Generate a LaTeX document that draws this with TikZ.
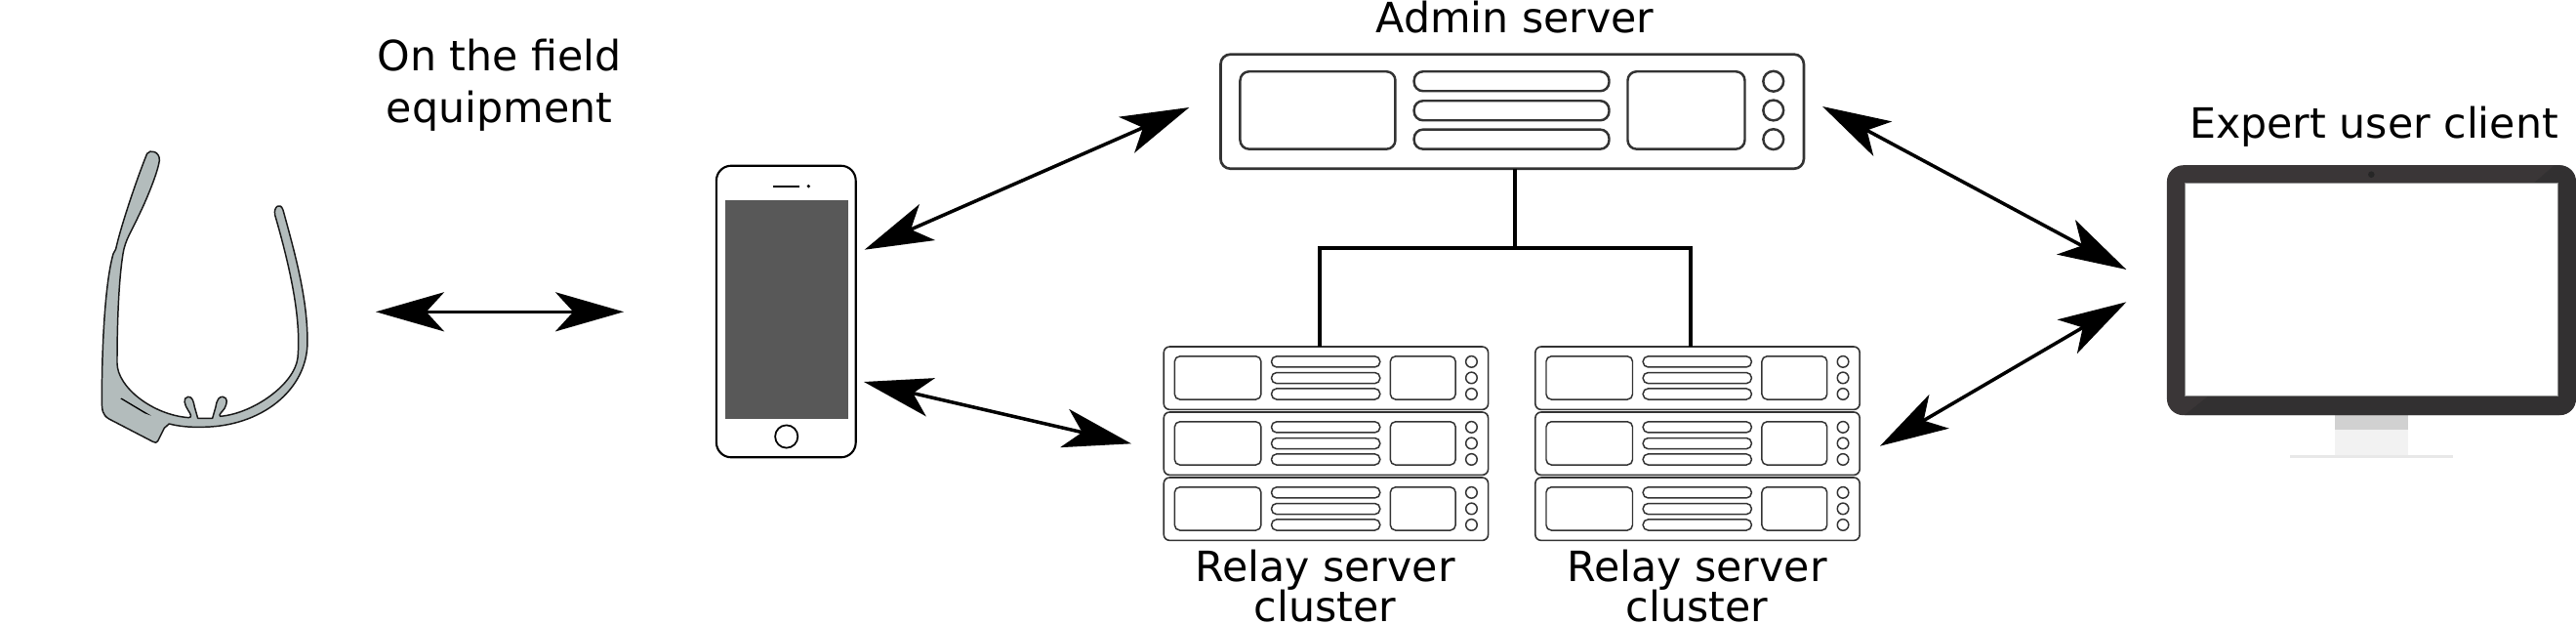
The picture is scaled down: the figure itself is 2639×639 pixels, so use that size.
\documentclass[tikz,border=0pt]{standalone}
\usepackage{fontspec}
\setmainfont{DejaVu Sans}
\usetikzlibrary{arrows.meta}
\definecolor{rackline}{HTML}{333333}
\definecolor{glassfill}{HTML}{B3BCBC}
\definecolor{screenfill}{HTML}{585858}
\definecolor{bezellight}{HTML}{3A3637}
\definecolor{bezeldark}{HTML}{323031}
\tikzstyle{link arrow}=[{Stealth[length=19.9pt,width=11.4pt,inset=5.2pt]}-{Stealth[length=19.9pt,width=11.4pt,inset=5.2pt]}, line width=1pt]
\tikzstyle{bus line}=[line width=1.05pt, line join=miter]
\tikzstyle{caption}=[inner sep=0pt, align=center, font=\fontsize{12.15}{15.1}\selectfont]
\tikzstyle{caption tight}=[inner sep=0pt, align=center, font=\fontsize{12.15}{11.9}\selectfont]
\tikzstyle{admin frame}=[draw=rackline, fill=white, line width=.75pt, rounded corners=2.85pt, inner sep=0pt, outer sep=0pt, minimum width=169.9pt, minimum height=33.3pt]
\tikzstyle{relay frame}=[draw=rackline, fill=white, line width=.45pt, rounded corners=1.7pt, inner sep=0pt, outer sep=0pt, minimum width=94.5pt, minimum height=18.3pt]
\tikzstyle{admin parts}=[line width=.7pt, rounded corners=2.6pt]
\tikzstyle{relay parts}=[scale=.5566, line width=.42pt, rounded corners=1.5pt]
\tikzset{
  pics/rackparts/.style={code={
    \draw [rackline] (20,17.6) rectangle (179,97);
    \draw [rackline] (198.2,17.6) rectangle (398,37.6);
    \draw [rackline] (198.2,47.6) rectangle (398,67.6);
    \draw [rackline] (198.2,77) rectangle (398,97);
    \draw [rackline] (417,17.6) rectangle (537,97);
    \draw [rackline] (566.3,27.6) circle (10.4);
    \draw [rackline] (566.3,57.3) circle (10.4);
    \draw [rackline] (566.3,87) circle (10.4);
  }}
}

\begin{document}
\begin{tikzpicture}[x=0.01cm, y=-0.01cm]
		\useasboundingbox (0,0) rectangle (2639,639);

		% glasses
		\begin{scope}[shift={(60,130)}, scale=0.3333]
			\draw [fill=glassfill, draw=black!90, line width=.42pt, line join=round]
				(272,82) .. controls (280,68) and (312,75) .. (310,103)
				.. controls (305,140) and (270,225) .. (245,275)
				.. controls (225,320) and (205,345) .. (198,390)
				.. controls (185,470) and (180,600) .. (180,725)
				.. controls (180,800) and (290,885) .. (400,893)
				.. controls (412,893) and (405,880) .. (398,870)
				.. controls (388,855) and (380,832) .. (398,829)
				.. controls (412,828) and (415,845) .. (418,860)
				-- (428,895) -- (473,895) -- (483,860)
				.. controls (487,835) and (495,828) .. (505,829)
				.. controls (522,832) and (518,850) .. (510,865)
				.. controls (503,875) and (490,885) .. (497,889)
				.. controls (600,880) and (725,790) .. (735,710)
				.. controls (745,600) and (720,460) .. (665,270)
				.. controls (660,245) and (682,230) .. (690,255)
				.. controls (730,400) and (765,530) .. (765,660)
				.. controls (765,810) and (620,922) .. (440,922)
				.. controls (405,923) and (370,920) .. (340,912)
				-- (325,925) -- (305,965)
				.. controls (302,971) and (297,971) .. (290,967)
				-- (155,897)
				.. controls (135,885) and (133,870) .. (133,840)
				.. controls (133,650) and (145,470) .. (168,390)
				-- (176,375)
				.. controls (190,310) and (240,160) .. (272,82) -- cycle;
			\fill [black] (190,835) -- (194,833) -- (285,887) -- (265,880) -- cycle;
		\end{scope}

		% phone
		\node (phone) [draw, fill=white, line width=.6pt, rounded corners=4.3pt, inner sep=0pt, outer sep=0pt, minimum width=40.6pt, minimum height=84.9pt] at (805.3,319) {};
		\node (phonescreen) [fill=screenfill, inner sep=0pt, minimum width=35.9pt, minimum height=63.8pt] at (806,317) {};
		\node (phonebutton) [draw, circle, line width=.5pt, inner sep=0pt, minimum size=6.6pt] at (805.7,447) {};
		\draw [line width=.55pt] (791.7,190.7) -- (819.3,190.7);
		\fill (828.3,190.7) circle (1.8);

		% monitor
		\fill [black!18] (2392,425) rectangle (2466.7,440);
		\fill [black!5] (2392,440) rectangle (2466.7,465.7);
		\fill [black!9] (2346,465.7) rectangle (2512.7,469.3);
		\node (monitor) [fill=bezellight, rounded corners=4.8pt, inner sep=0pt, outer sep=0pt, minimum width=119.2pt, minimum height=72.8pt] at (2429.5,297.2) {};
		\begin{scope}
			\clip [rounded corners=4.8pt] (2220,169.3) rectangle (2639,425);
			\fill [bezeldark] (2616.7,169.3) -- (2596.7,186.7) -- (2261.7,406) -- (2238,425) -- (2639,425) -- (2639,169.3) -- cycle;
		\end{scope}
		\node (monitorscreen) [fill=white, draw=black!45, line width=.2pt, inner sep=0pt, minimum width=108.8pt, minimum height=62.2pt] at (2429.5,296.3) {};
		\fill [black!85] (2429.3,178.7) circle (3.3);

		% servers
		\node (admin) [style=admin frame] at (1549.2,114.2) {};
		\pic [style=admin parts] at (admin.north west) {rackparts};

		\node (relayA1) [style=relay frame] at (1358.4,387.2) {};
		\node (relayA2) [style=relay frame] at (1358.4,454.2) {};
		\node (relayA3) [style=relay frame] at (1358.4,521.2) {};
		\node (relayB1) [style=relay frame] at (1739,387.2) {};
		\node (relayB2) [style=relay frame] at (1739,454.2) {};
		\node (relayB3) [style=relay frame] at (1739,521.2) {};
		\pic [style=relay parts] at (relayA1.north west) {rackparts};
		\pic [style=relay parts] at (relayA2.north west) {rackparts};
		\pic [style=relay parts] at (relayA3.north west) {rackparts};
		\pic [style=relay parts] at (relayB1.north west) {rackparts};
		\pic [style=relay parts] at (relayB2.north west) {rackparts};
		\pic [style=relay parts] at (relayB3.north west) {rackparts};

		% labels
		\node (fieldlabel) [style=caption] at (511.5,87) {On the field\\equipment};
		\node (adminlabel) [style=caption] at (1552,18) {Admin server};
		\node (expertlabel) [style=caption] at (2432,130) {Expert user client};
		\node (relaylabelA) [style=caption tight] at (1357.5,600) {Relay server\\cluster};
		\node (relaylabelB) [style=caption tight] at (1738.5,600) {Relay server\\cluster};

		% free ends of the links
		\coordinate (glassesend) at (385,319.3);
		\coordinate (phonehub) at (639,319.3);
		\coordinate (phoneup) at (885.7,255.7);
		\coordinate (adminleft) at (1218.3,110);
		\coordinate (phonedown) at (885,391);
		\coordinate (relayleft) at (1159,454.3);
		\coordinate (adminright) at (1867,109);
		\coordinate (monitorup) at (2178.3,276);
		\coordinate (relayright) at (1926,456.7);
		\coordinate (monitordown) at (2178.3,309.3);
		\coordinate (admintap) at (1552,172.7);
		\coordinate (busmid) at (1552,254.3);
		\coordinate (busleft) at (1352,254.3);
		\coordinate (busright) at (1732,254.3);
		\coordinate (tapA) at (1352,355);
		\coordinate (tapB) at (1732,355);

		\draw [style=link arrow] (glassesend) to (phonehub);
		\draw [style=link arrow] (phoneup) to (adminleft);
		\draw [style=link arrow] (phonedown) to (relayleft);
		\draw [style=link arrow] (adminright) to (monitorup);
		\draw [style=link arrow] (relayright) to (monitordown);

		\draw [style=bus line] (admintap) to (busmid);
		\draw [style=bus line] (tapA) -- (busleft) -- (busright) -- (tapB);

\end{tikzpicture}
\end{document}
